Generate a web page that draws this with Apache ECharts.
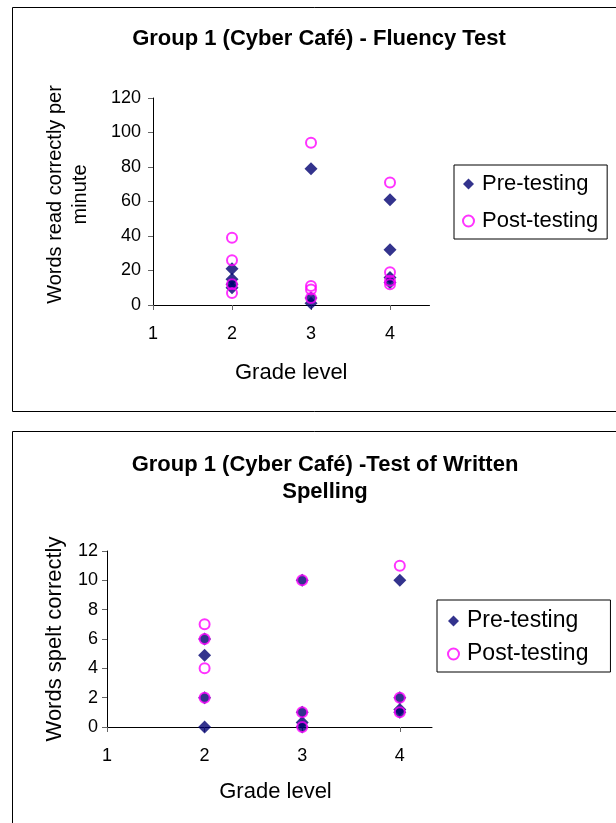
<!DOCTYPE html>
<html>
<head>
<meta charset="utf-8">
<script src="https://cdn.jsdelivr.net/npm/echarts@6/dist/echarts.min.js"></script>
<style>
  html, body { margin: 0; padding: 0; background: #fff; }
  #chart { width: 616px; height: 823px; }
</style>
</head>
<body>
<div id="chart"></div>
<script>
// fluency test (words read correctly per minute)
const fluencyPreGrade = [2, 2, 2, 2, 3, 3, 3, 4, 4, 4, 4]
const fluencyPreWords = [21, 15, 12, 10, 79, 4, 1, 61, 32, 16, 13]
const fluencyPostGrade = [2, 2, 2, 2, 3, 3, 3, 3, 4, 4, 4, 4]
const fluencyPostWords = [39, 26, 12, 7, 94, 11, 9, 4, 71, 19, 14, 12]

// test of written spelling (words spelt correctly)
const spellPreGrade = [2, 2, 2, 2, 3, 3, 3, 3, 4, 4, 4, 4]
const spellPreWords = [6, 4.9, 2, 0, 10, 1, 0.3, 0, 10, 2, 1.2, 1]
const spellPostGrade = [2, 2, 2, 2, 3, 3, 3, 4, 4, 4]
const spellPostWords = [7, 6, 4, 2, 10, 1, 0, 11, 2, 1]

const gradeTicks = [1, 2, 3, 4]
const FONT = '"Liberation Sans", Arial, sans-serif'
const NAVY = '#000070'
const MAGENTA = '#FF00FF'

const zip = (xs, ys) => xs.map((x, i) => [x, ys[i]])

function xAxisFor(gridIndex, max, nameGap, namePad) {
  return {
    gridIndex,
    type: 'value',
    min: 1,
    max,
    name: 'Grade level',
    nameLocation: 'middle',
    nameGap,
    nameTextStyle: { color: '#000', fontSize: 22, fontFamily: FONT, padding: namePad },
    axisLine: { onZero: false, lineStyle: { color: '#000', width: 1 } },
    axisTick: { show: true, inside: false, length: 5, customValues: gradeTicks, lineStyle: { color: '#666' } },
    axisLabel: { customValues: gradeTicks, color: '#000', fontSize: 18, fontFamily: FONT, margin: 20 },
    splitLine: { show: false }
  }
}

function yAxisFor(gridIndex, max, interval, name, nameGap, nameStyle, labelMargin) {
  return {
    gridIndex,
    type: 'value',
    min: 0,
    max,
    interval,
    name,
    nameLocation: 'middle',
    nameRotate: 90,
    nameGap,
    nameTextStyle: Object.assign({ color: '#000', fontFamily: FONT, lineHeight: 25 }, nameStyle),
    axisLine: { show: true, lineStyle: { color: '#000', width: 1 } },
    axisTick: { show: true, length: 5, lineStyle: { color: '#666' } },
    axisLabel: { color: '#000', fontSize: 18, fontFamily: FONT, margin: labelMargin },
    splitLine: { show: false }
  }
}

function preSeries(idx, data) {
  return {
    name: 'Pre-testing',
    type: 'scatter',
    xAxisIndex: idx,
    yAxisIndex: idx,
    symbol: 'diamond',
    symbolSize: 13,
    itemStyle: { color: NAVY },
    data
  }
}

function postSeries(idx, data) {
  return {
    name: 'Post-testing',
    type: 'scatter',
    xAxisIndex: idx,
    yAxisIndex: idx,
    symbol: 'circle',
    symbolSize: 10,
    itemStyle: { color: 'rgba(0,0,0,0)', borderColor: MAGENTA, borderWidth: 2 },
    data
  }
}

function legendFor(left, top, gap, padding, fontSize) {
  return {
    orient: 'vertical',
    left,
    top,
    data: ['Pre-testing', 'Post-testing'],
    itemWidth: 11,
    itemHeight: 11,
    itemGap: gap,
    padding,
    borderColor: '#000',
    borderWidth: 1,
    textStyle: { color: '#000', fontSize, fontFamily: FONT, lineHeight: 26, padding: [0, 0, 0, 3] }
  }
}

const chart = echarts.init(document.getElementById('chart'), null, { renderer: 'canvas' })

chart.setOption({
  animation: false,
  backgroundColor: '#fff',
  graphic: [
    { type: 'rect', shape: { x: 12.5, y: 7.5, width: 620, height: 404 }, style: { fill: 'none', stroke: '#000', lineWidth: 1 }, z: -1 },
    { type: 'rect', shape: { x: 12.5, y: 431.5, width: 620, height: 420 }, style: { fill: 'none', stroke: '#000', lineWidth: 1 }, z: -1 }
  ],
  title: [
    {
      text: 'Group 1 (Cyber Café) - Fluency Test',
      left: 314,
      top: 23,
      textAlign: 'center',
      textStyle: { color: '#000', fontSize: 22, fontWeight: 'bold', fontFamily: FONT }
    },
    {
      text: 'Group 1 (Cyber Café) -Test of Written\nSpelling',
      left: 320,
      top: 446,
      textAlign: 'center',
      textStyle: { color: '#000', fontSize: 22, fontWeight: 'bold', fontFamily: FONT, lineHeight: 27 }
    }
  ],
  legend: [
    legendFor(454, 165, 11, [6, 9, 5, 8], 22),
    legendFor(437, 600, 7, [8, 22, 5, 10], 23)
  ],
  grid: [
    { left: 153, top: 98, width: 276.5, height: 207 },
    { left: 107, top: 551, width: 325, height: 176 }
  ],
  xAxis: [xAxisFor(0, 4.5, 57, 0), xAxisFor(1, 4.33, 54, [0, 0, 0, 12])],
  yAxis: [
    yAxisFor(0, 120, 20, 'Words read correctly per\nminute', 60, { fontSize: 20, padding: [0, 0, 0, 14] }, 12),
    yAxisFor(1, 12, 2, 'Words spelt correctly', 26, { fontSize: 22 }, 9)
  ],
  series: [
    preSeries(0, zip(fluencyPreGrade, fluencyPreWords)),
    postSeries(0, zip(fluencyPostGrade, fluencyPostWords)),
    preSeries(1, zip(spellPreGrade, spellPreWords)),
    postSeries(1, zip(spellPostGrade, spellPostWords))
  ]
})
</script>
</body>
</html>
